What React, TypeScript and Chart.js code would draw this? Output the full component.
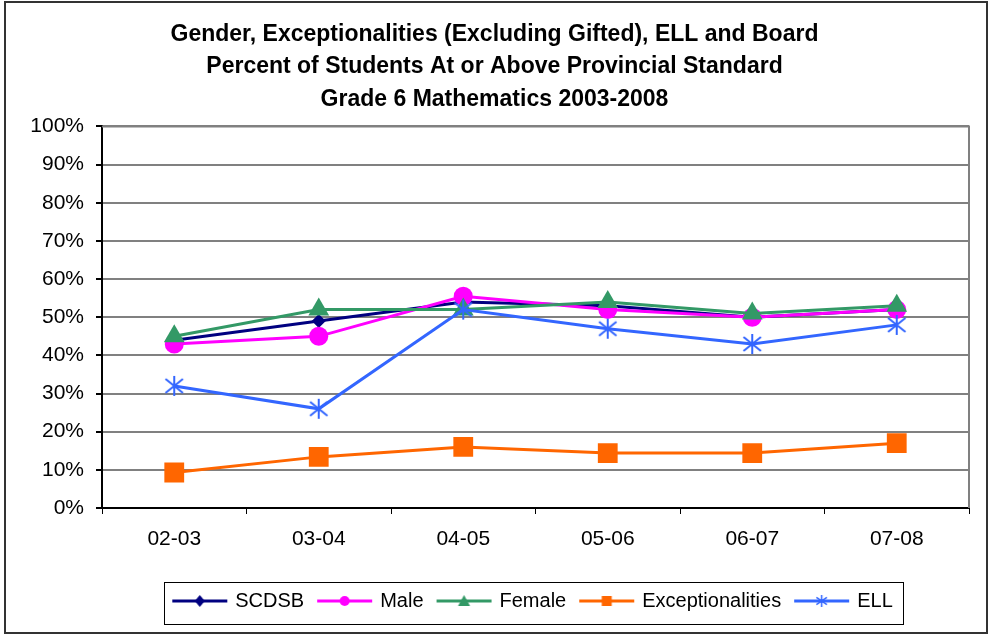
import React, { useEffect, useRef } from "react";
import { Chart, registerables } from "chart.js";

Chart.register(...registerables);

const categories = ["02-03", "03-04", "04-05", "05-06", "06-07", "07-08"];
const scdsb = [44, 49, 54, 53, 50, 52];
const male = [43, 45, 55.5, 52, 50, 52];
const female = [45, 52, 52, 54, 51, 53];
const exceptionalities = [9.3, 13.4, 16, 14.4, 14.4, 17];
const ell = [32, 26, 52, 47, 43, 48];
const titleLines = [
  "Gender, Exceptionalities (Excluding Gifted), ELL and Board",
  "Percent of Students At or Above Provincial Standard",
  "Grade 6 Mathematics 2003-2008",
];
const yTicks = [0, 10, 20, 30, 40, 50, 60, 70, 80, 90, 100];

const FONT = "'Liberation Sans', Arial, sans-serif";

function asteriskCanvas(color: string, size: number, lw: number) {
  const c = document.createElement("canvas");
  c.width = size;
  c.height = size;
  const ctx = c.getContext("2d")!;
  ctx.strokeStyle = color;
  ctx.lineWidth = lw;
  const m = size / 2;
  const r = size / 2 - 1;
  ctx.beginPath();
  ctx.moveTo(m, m - r);
  ctx.lineTo(m, m + r);
  ctx.moveTo(m - r * 0.87, m - r * 0.7);
  ctx.lineTo(m + r * 0.87, m + r * 0.7);
  ctx.moveTo(m - r * 0.87, m + r * 0.7);
  ctx.lineTo(m + r * 0.87, m - r * 0.7);
  ctx.stroke();
  return c;
}

function legendImage(color: string, marker: string) {
  const w = 57;
  const h = 16;
  const c = document.createElement("canvas");
  c.width = w;
  c.height = h;
  const ctx = c.getContext("2d")!;
  ctx.strokeStyle = color;
  ctx.fillStyle = color;
  ctx.lineWidth = 3;
  ctx.beginPath();
  ctx.moveTo(1, h / 2);
  ctx.lineTo(w - 1, h / 2);
  ctx.stroke();
  const cx = w / 2;
  const cy = h / 2;
  ctx.beginPath();
  if (marker === "diamond") {
    ctx.moveTo(cx, cy - 6);
    ctx.lineTo(cx + 5, cy);
    ctx.lineTo(cx, cy + 6);
    ctx.lineTo(cx - 5, cy);
    ctx.closePath();
    ctx.fill();
  } else if (marker === "circle") {
    ctx.arc(cx, cy, 5, 0, Math.PI * 2);
    ctx.fill();
  } else if (marker === "triangle") {
    ctx.moveTo(cx, cy - 6);
    ctx.lineTo(cx + 6, cy + 5);
    ctx.lineTo(cx - 6, cy + 5);
    ctx.closePath();
    ctx.fill();
  } else if (marker === "square") {
    ctx.rect(cx - 5, cy - 5, 10, 10);
    ctx.fill();
  } else if (marker === "star") {
    const r = 6;
    ctx.lineWidth = 1.5;
    ctx.moveTo(cx, cy - r);
    ctx.lineTo(cx, cy + r);
    ctx.moveTo(cx - r * 0.87, cy - r * 0.6);
    ctx.lineTo(cx + r * 0.87, cy + r * 0.6);
    ctx.moveTo(cx - r * 0.87, cy + r * 0.6);
    ctx.lineTo(cx + r * 0.87, cy - r * 0.6);
    ctx.stroke();
  }
  return c;
}

export default function App() {
  const ref = useRef<HTMLCanvasElement>(null);

  useEffect(() => {
    const colors = ["#000080", "#FF00FF", "#339966", "#FF6600", "#3366FF"];
    const markers = ["diamond", "circle", "triangle", "square", "star"];
    const legendImgs = colors.map((c, i) => legendImage(c, markers[i]));
    const star = asteriskCanvas("#3366FF", 22, 2);

    const framePlugin = {
      id: "frame",
      afterLayout(chart: any) {
        const lg = chart.legend;
        if (lg) {
          lg.left += 39;
          lg.right += 39;
        }
      },
      beforeDatasetsDraw(chart: any) {
        const { ctx, chartArea: a } = chart;
        ctx.save();
        ctx.strokeStyle = "#808080";
        ctx.lineWidth = 2;
        ctx.beginPath();
        ctx.moveTo(a.left, a.top);
        ctx.lineTo(a.right, a.top);
        ctx.lineTo(a.right, a.bottom);
        ctx.stroke();
        ctx.restore();
      },
      afterDraw(chart: any) {
        const ctx = chart.ctx;
        const boxes = chart.legend?.legendHitBoxes;
        if (boxes && boxes.length) {
          const first = boxes[0];
          const last = boxes[boxes.length - 1];
          const cy = first.top + first.height / 2;
          const left = first.left - 10;
          const right = last.left + last.width + 11;
          const top = cy - 19;
          const bottom = cy + 23;
          ctx.save();
          ctx.strokeStyle = "#000000";
          ctx.lineWidth = 1;
          ctx.strokeRect(Math.round(left) + 0.5, Math.round(top) + 0.5, Math.round(right - left), Math.round(bottom - top));
          ctx.restore();
        }
      },
    };

    const mk = (label: string, data: number[], i: number, extra: any) => ({
      label,
      data,
      borderColor: colors[i],
      backgroundColor: colors[i],
      borderWidth: 3,
      pointBorderWidth: 0,
      pointBorderColor: colors[i],
      tension: 0,
      ...extra,
    });

    const chart = new Chart(ref.current!, {
      type: "line",
      data: {
        labels: categories,
        datasets: [
          mk("SCDSB", scdsb, 0, { pointStyle: "rectRot", pointRadius: 7, order: 4 }),
          mk("Male", male, 1, { pointStyle: "circle", pointRadius: 9.5, order: 3 }),
          mk("Female", female, 2, { pointStyle: "triangle", pointRadius: 12, order: 2 }),
          mk("Exceptionalities", exceptionalities, 3, { pointStyle: "rect", pointRadius: 14, order: 1 }),
          mk("ELL", ell, 4, { pointStyle: star, pointRadius: 11, order: 0 }),
        ],
      },
      plugins: [framePlugin],
      options: {
        responsive: false,
        animation: false,
        layout: { padding: { left: 20, right: 20, top: 0, bottom: 13 } },
        plugins: {
          tooltip: { enabled: false },
          title: {
            display: true,
            text: titleLines,
            color: "#000000",
            font: { family: FONT, size: 23, weight: "bold", lineHeight: 1.413 },
            padding: { top: 18, bottom: 11 },
          },
          legend: {
            position: "bottom",
            labels: {
              usePointStyle: true,
              pointStyleWidth: 51,
              boxHeight: 20,
              padding: 15,
              color: "#000000",
              font: { family: FONT, size: 20 },
              generateLabels(chart: any) {
                const items = (Chart.defaults.plugins.legend.labels as any).generateLabels(chart);
                return items
                  .sort((a: any, b: any) => a.datasetIndex - b.datasetIndex)
                  .map((it: any) => ({ ...it, pointStyle: legendImgs[it.datasetIndex], lineWidth: 0 }));
              },
            },
          },
        },
        scales: {
          x: {
            offset: true,
            grid: {
              offset: true,
              drawOnChartArea: false,
              drawTicks: true,
              tickLength: 6,
              color: "#000000",
            },
            border: { color: "#000000", width: 2 },
            ticks: {
              color: "#000000",
              font: { family: FONT, size: 21 },
              padding: 13,
              maxRotation: 0,
            },
            afterFit(scale: any) {
              scale.height = 68;
            },
          },
          y: {
            min: 0,
            max: 100,
            afterBuildTicks(scale: any) {
              scale.ticks = yTicks.map((v) => ({ value: v }));
            },
            grid: {
              color: "#808080",
              lineWidth: 2,
              tickLength: 6,
              tickColor: "#000000",
            },
            border: { color: "#000000", width: 2 },
            ticks: {
              color: "#000000",
              font: { family: FONT, size: 21 },
              padding: 12,
              callback: (v: any) => v + "%",
            },
            afterFit(scale: any) {
              scale.width = 82;
            },
          },
        },
      },
    } as any);
    return () => chart.destroy();
  }, []);

  return (
    <div style={{ position: "fixed", left: 0, top: 0, width: 989, height: 634, background: "#fff" }}>
      <div
        style={{
          position: "absolute",
          left: 4,
          top: 1,
          width: 980,
          height: 629,
          border: "2px solid #333333",
        }}
      />
      <canvas ref={ref} width={989} height={634} style={{ position: "absolute", left: 0, top: 0 }} />
    </div>
  );
}
